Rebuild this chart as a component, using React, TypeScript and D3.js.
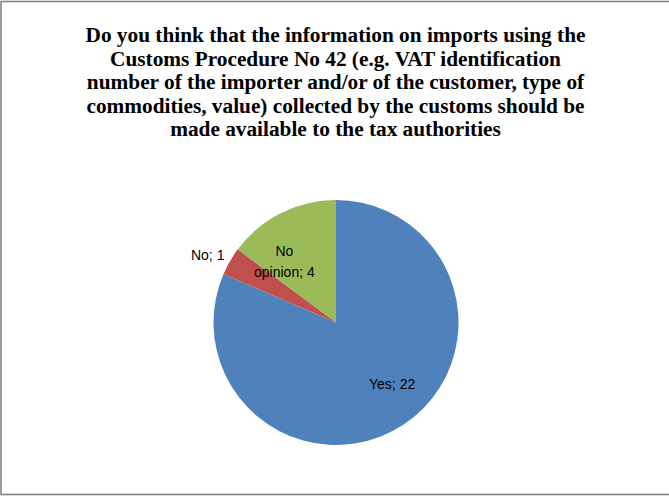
import React, { useEffect, useRef } from "react";
import * as d3 from "d3";

const categories = ["Yes", "No", "No opinion"];
const counts = [22, 1, 4];
const colors = ["#4F81BD", "#C0504D", "#9BBB59"];
const titleLines = [
  "Do you think that the information on imports using the",
  "Customs Procedure No 42 (e.g. VAT identification",
  "number of the importer and/or of the customer, type of",
  "commodities, value) collected by the customs should be",
  "made available to the tax authorities",
];

const W = 669;
const H = 496;

type Slice = { name: string; value: number; color: string };

const App: React.FC = () => {
  const svgRef = useRef<SVGSVGElement>(null);

  useEffect(() => {
    const svg = d3.select(svgRef.current);
    svg.selectAll("*").remove();

    svg
      .append("rect")
      .attr("x", 1)
      .attr("y", 1.5)
      .attr("width", W + 4)
      .attr("height", 493)
      .attr("fill", "#fff")
      .attr("stroke", "#868686")
      .attr("stroke-width", 1.6);

    // title
    svg
      .append("g")
      .selectAll("text")
      .data(titleLines)
      .enter()
      .append("text")
      .attr("x", 335.5)
      .attr("y", (_, i) => 42 + i * 23.5)
      .attr("text-anchor", "middle")
      .attr("font-family", "'Liberation Serif', 'Times New Roman', serif")
      .attr("font-weight", "bold")
      .attr("font-size", "21.3px")
      .attr("fill", "#000")
      .text((d) => d);

    const data: Slice[] = categories.map((name, i) => ({ name, value: counts[i], color: colors[i] }));
    const radius = 122.5;
    const cx = 336;
    const cy = 322.5;

    const pie = d3
      .pie<Slice>()
      .value((d) => d.value)
      .sort(null);
    const arc = d3.arc<d3.PieArcDatum<Slice>>().innerRadius(0).outerRadius(radius);

    const arcs = pie(data);
    const g = svg.append("g").attr("transform", `translate(${cx},${cy})`);

    g.selectAll("path")
      .data(arcs)
      .enter()
      .append("path")
      .attr("d", arc)
      .attr("fill", (d) => d.data.color);

    // label placement per slice: radius factor + nudge
    const labelPos: { [k: string]: { r: number; dx: number; dy: number; lines: string[] } } = {
      Yes: { r: 0.7, dx: 9, dy: -10, lines: ["Yes; 22"] },
      No: { r: 1.2, dx: -1, dy: 6, lines: ["No; 1"] },
      "No opinion": { r: 0.63, dx: -17, dy: 8, lines: ["No", "opinion; 4"] },
    };

    arcs.forEach((a) => {
      const p = labelPos[a.data.name];
      const la = d3
        .arc<d3.PieArcDatum<Slice>>()
        .innerRadius(radius * p.r)
        .outerRadius(radius * p.r);
      const [x, y] = la.centroid(a);
      const t = g
        .append("text")
        .attr("text-anchor", "middle")
        .attr("font-family", "'Liberation Sans', Arial, sans-serif")
        .attr("font-size", "14px")
        .attr("fill", "#000");
      const n = p.lines.length;
      p.lines.forEach((line, i) => {
        t.append("tspan")
          .attr("x", x + p.dx)
          .attr("y", y + p.dy + (i - (n - 1) / 2) * 21 + 5)
          .text(line);
      });
    });
  }, []);

  return (
    <div style={{ position: "absolute", left: 0, top: 0 }}>
      <svg ref={svgRef} width={W} height={H} style={{ display: "block" }}></svg>
    </div>
  );
};

export default App;
